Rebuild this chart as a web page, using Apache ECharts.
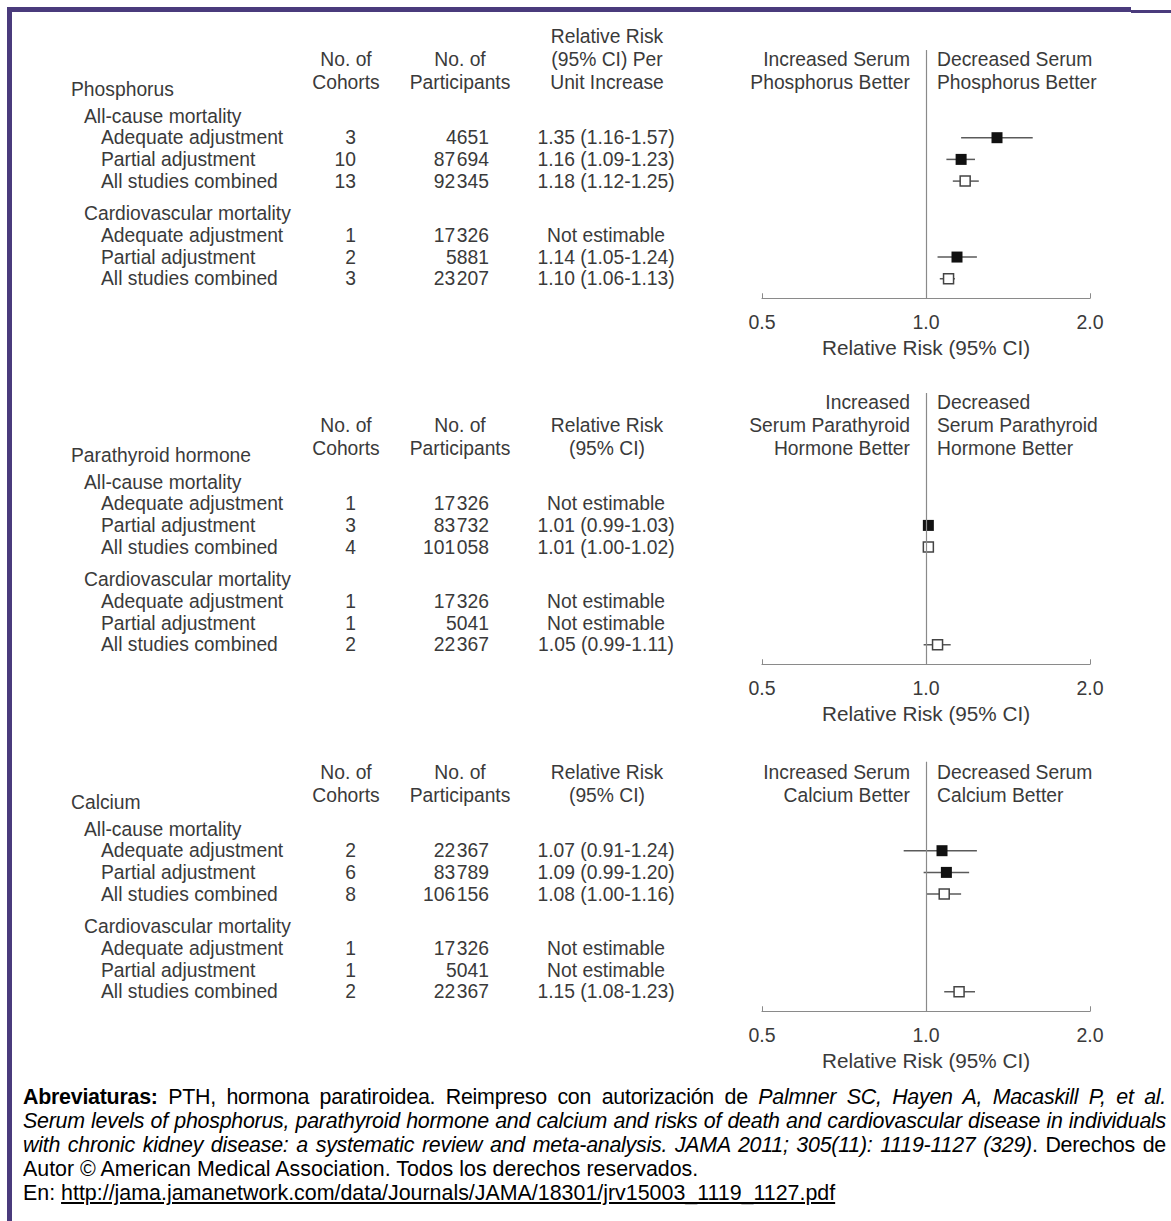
<!DOCTYPE html>
<html><head><meta charset="utf-8">
<script src="https://cdn.jsdelivr.net/npm/echarts@6/dist/echarts.min.js"></script>
<style>
html,body{margin:0;padding:0;background:#fff;width:1171px;height:1221px;overflow:hidden;position:relative}
#chart{position:absolute;left:0;top:0;width:1171px;height:1085px}
.bar{position:absolute;background:#4a3b7c}
#cap{position:absolute;left:23px;top:1085px;width:1143px;font-family:'Liberation Sans',Arial,sans-serif;font-size:21.4px;line-height:24px;color:#000}
#cap div{text-align:justify;text-align-last:justify;letter-spacing:-0.25px}
#cap div.l{text-align-last:left;letter-spacing:0}
#cap a{color:#000;text-decoration:underline}
</style>
</head><body>
<div class="bar" style="left:7px;top:7px;width:1124px;height:5px"></div>
<div class="bar" style="left:1131px;top:10px;width:40px;height:3px"></div>
<div class="bar" style="left:7px;top:7px;width:5px;height:1214px"></div>
<div id="chart"></div>
<div id="cap">
<div><b>Abreviaturas:</b> PTH, hormona paratiroidea. Reimpreso con autorización de <i>Palmner SC, Hayen A, Macaskill P, et al.</i></div>
<div><i>Serum levels of phosphorus, parathyroid hormone and calcium and risks of death and cardiovascular disease in individuals</i></div>
<div><i>with chronic kidney disease: a systematic review and meta-analysis. JAMA 2011; 305(11): 1119-1127 (329)</i>. Derechos de</div>
<div class="l">Autor © American Medical Association. Todos los derechos reservados.</div>
<div class="l">En: <a>http://jama.jamanetwork.com/data/Journals/JAMA/18301/jrv15003_1119_1127.pdf</a></div>
</div>
<script>
// ---------- data ----------
const panelTitles = ['Phosphorus', 'Parathyroid hormone', 'Calcium'];
const outcomeGroups = ['All-cause mortality', 'Cardiovascular mortality'];
const adjustmentRows = ['Adequate adjustment', 'Partial adjustment', 'All studies combined',
                        'Adequate adjustment', 'Partial adjustment', 'All studies combined'];
const combinedRows = [false, false, true, false, false, true];
const cohortsHeader = ['No. of', 'Cohorts'];
const participantsHeader = ['No. of', 'Participants'];
const rrHeaders = [['Relative Risk', '(95% CI) Per', 'Unit Increase'], ['Relative Risk', '(95% CI)'], ['Relative Risk', '(95% CI)']];
const increasedBetter = [['Increased Serum', 'Phosphorus Better'], ['Increased', 'Serum Parathyroid', 'Hormone Better'], ['Increased Serum', 'Calcium Better']];
const decreasedBetter = [['Decreased Serum', 'Phosphorus Better'], ['Decreased', 'Serum Parathyroid', 'Hormone Better'], ['Decreased Serum', 'Calcium Better']];
const tickValues = [0.5, 1, 2];
const tickLabels = ['0.5', '1.0', '2.0'];
const axisTitle = 'Relative Risk (95% CI)';
const notEstimable = 'Not estimable';

const phosCohorts = [3, 10, 13, 1, 2, 3];
const phosParticipants = [4651, 87694, 92345, 17326, 5881, 23207];
const phosRR = [1.35, 1.16, 1.18, null, 1.14, 1.10];
const phosLow = [1.16, 1.09, 1.12, null, 1.05, 1.06];
const phosHigh = [1.57, 1.23, 1.25, null, 1.24, 1.13];

const pthCohorts = [1, 3, 4, 1, 1, 2];
const pthParticipants = [17326, 83732, 101058, 17326, 5041, 22367];
const pthRR = [null, 1.01, 1.01, null, null, 1.05];
const pthLow = [null, 0.99, 1.00, null, null, 0.99];
const pthHigh = [null, 1.03, 1.02, null, null, 1.11];

const caCohorts = [2, 6, 8, 1, 1, 2];
const caParticipants = [22367, 83789, 106156, 17326, 5041, 22367];
const caRR = [1.07, 1.09, 1.08, null, null, 1.15];
const caLow = [0.91, 0.99, 1.00, null, null, 1.08];
const caHigh = [1.24, 1.20, 1.16, null, null, 1.23];

// ---------- layout ----------
const panels = [
  {cohorts: phosCohorts, parts: phosParticipants, rr: phosRR, low: phosLow, high: phosHigh, base: 116, yMin: -3.04},
  {cohorts: pthCohorts, parts: pthParticipants, rr: pthRR, low: pthLow, high: pthHigh, base: 482, yMin: -4.1},
  {cohorts: caCohorts, parts: caParticipants, rr: caRR, low: caLow, high: caHigh, base: 829, yMin: -3.1}
];
const rowH = 21.7;
const yMax = 8.4;
const rowIdx = [1, 2, 3, 5.5, 6.5, 7.5];
const groupIdx = [0, 4.5];
const headerOff = [-80, -57, -34];
const FONT = '"Liberation Sans", Arial, sans-serif';
const TXT = '#3a3a3a';
const plotLeft = 762, plotRight = 1090;

function fmt(n) {
  if (n >= 10000) return Math.floor(n / 1000) + '\u200A' + String(n % 1000).padStart(3, '0');
  return String(n);
}
function fmtRR(r, l, h) {
  if (r == null) return notEstimable;
  return r.toFixed(2) + ' (' + l.toFixed(2) + '-' + h.toFixed(2) + ')';
}
const graphics = [];
function txt(x, y, s, align, size) {
  graphics.push({type: 'text', x: x, y: y, silent: true,
    style: {text: s, fill: TXT, font: (size || 19.3) + 'px ' + FONT, textAlign: align || 'left', textVerticalAlign: 'middle'}});
}
function stack(x, base, lines, align) {
  const n = lines.length;
  lines.forEach((s, i) => txt(x, base + headerOff[3 - n + i], s, align));
}

const grids = [], xAxes = [], yAxes = [], series = [];
panels.forEach((p, k) => {
  const b = p.base;
  // headers
  txt(71, b - 27, panelTitles[k]);
  stack(346, b, cohortsHeader, 'center');
  stack(460, b, participantsHeader, 'center');
  stack(607, b, rrHeaders[k], 'center');
  stack(910, b, increasedBetter[k], 'right');
  stack(937, b, decreasedBetter[k], 'left');
  groupIdx.forEach((g, i) => txt(84, b + g * rowH, outcomeGroups[i]));
  rowIdx.forEach((r, i) => {
    const y = b + r * rowH;
    txt(101, y, adjustmentRows[i]);
    txt(356, y, String(p.cohorts[i]), 'right');
    txt(489, y, fmt(p.parts[i]), 'right');
    txt(606, y, fmtRR(p.rr[i], p.low[i], p.high[i]), 'center');
  });

  grids.push({left: plotLeft, width: plotRight - plotLeft, top: b + p.yMin * rowH, height: (yMax - p.yMin) * rowH});
  xAxes.push({
    gridIndex: k, type: 'log', logBase: 2, min: 0.5, max: 2, position: 'bottom',
    axisLine: {show: true, onZero: false, lineStyle: {color: '#8a8a8a', width: 1.2}},
    axisTick: {show: true, inside: true, length: 5, lineStyle: {color: '#8a8a8a'}},
    splitLine: {show: false},
    axisLabel: {color: TXT, fontSize: 19.5, fontFamily: FONT, margin: 14,
      formatter: v => { let j = 0; tickValues.forEach((t, i) => { if (Math.abs(t - v) < 1e-6) j = i; }); return tickLabels[j]; }},
    name: axisTitle, nameLocation: 'middle', nameGap: 39,
    nameTextStyle: {color: TXT, fontSize: 20.7, fontFamily: FONT}
  });
  yAxes.push({gridIndex: k, type: 'value', inverse: true, min: p.yMin, max: yMax, show: false});

  const ci = [], filled = [], open = [];
  rowIdx.forEach((r, i) => {
    if (p.rr[i] == null) return;
    ci.push([p.low[i], p.high[i], r]);
    (combinedRows[i] ? open : filled).push([p.rr[i], r]);
  });
  series.push({
    type: 'custom', xAxisIndex: k, yAxisIndex: k, data: ci, z: 2, silent: true,
    encode: {x: [0, 1], y: 2},
    renderItem: (params, api) => {
      const a = api.coord([api.value(0), api.value(2)]);
      const c = api.coord([api.value(1), api.value(2)]);
      return {type: 'line', shape: {x1: a[0], y1: a[1], x2: c[0], y2: c[1]}, style: {stroke: '#5a5a5a', lineWidth: 1.5}};
    },
    markLine: {silent: true, symbol: ['none', 'none'], label: {show: false},
      lineStyle: {color: '#8a8a8a', width: 1.2, type: 'solid'}, data: [{xAxis: 1}]}
  });
  series.push({type: 'scatter', xAxisIndex: k, yAxisIndex: k, data: filled, symbol: 'rect', symbolSize: 11, z: 4,
    itemStyle: {color: '#111', opacity: 1}, silent: true});
  series.push({type: 'scatter', xAxisIndex: k, yAxisIndex: k, data: open, symbol: 'rect', symbolSize: 10, z: 4,
    itemStyle: {color: '#fff', borderColor: '#444', borderWidth: 1.5, opacity: 1}, silent: true});
});

const chart = echarts.init(document.getElementById('chart'), null, {renderer: 'svg'});
chart.setOption({
  animation: false,
  grid: grids, xAxis: xAxes, yAxis: yAxes, series: series,
  graphic: graphics
});
</script>
</body></html>
